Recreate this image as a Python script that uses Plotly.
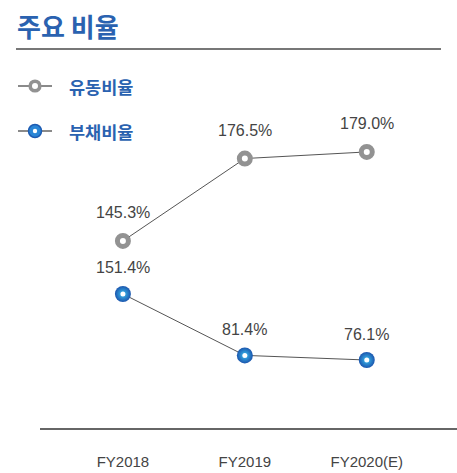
import plotly.graph_objects as go

categories = ["FY2018", "FY2019", "FY2020(E)"]
current_ratio = [145.3, 176.5, 179.0]   # 유동비율
debt_ratio = [151.4, 81.4, 76.1]        # 부채비율
series_names = ["유동비율", "부채비율"]
title_text = "주요 비율"

BLUE = "#2a62b0"
GRAY = "#929292"
LABEL_FONT = dict(family="Liberation Sans, Arial, sans-serif", size=16, color="#444444")

# plot area geometry (pixels) used for paper-coordinate conversions
W, H = 457, 473
ML, MR, MT, MB = 40, 0, 60, 45
PW, PH = W - ML - MR, H - MT - MB


def px(xp):
    return (xp - ML) / PW


def py(yp):
    return (H - MB - yp) / PH


fig = go.Figure()

# 유동비율 (gray)
fig.add_trace(go.Scatter(
    x=categories, y=current_ratio, yaxis="y", mode="lines+markers",
    line=dict(color="#555555", width=1),
    marker=dict(size=11, color="white", line=dict(color=GRAY, width=5)),
    showlegend=False, hoverinfo="skip", cliponaxis=False,
))

# 부채비율 (blue, gradient ring)
fig.add_trace(go.Scatter(
    x=categories, y=debt_ratio, yaxis="y2", mode="lines+markers",
    line=dict(color="#555555", width=1),
    marker=dict(size=16, color="#1b56ae", line=dict(width=0),
                gradient=dict(type="radial", color="#3cc0f0")),
    showlegend=False, hoverinfo="skip", cliponaxis=False,
))
fig.add_trace(go.Scatter(
    x=categories, y=debt_ratio, yaxis="y2", mode="markers",
    marker=dict(size=5, color="white", line=dict(width=0)),
    showlegend=False, hoverinfo="skip", cliponaxis=False,
))

annotations = []
for c, v in zip(categories, current_ratio):
    annotations.append(dict(x=c, y=v, xref="x", yref="y", text=f"{v:.1f}%",
                            showarrow=False, yshift=28, font=LABEL_FONT))
for c, v in zip(categories, debt_ratio):
    annotations.append(dict(x=c, y=v, xref="x", yref="y2", text=f"{v:.1f}%",
                            showarrow=False, yshift=26, font=LABEL_FONT))

# title
annotations.append(dict(x=px(15), y=py(25), xref="paper", yref="paper",
                        xanchor="left", yanchor="middle", showarrow=False,
                        text=f"<b>{title_text}</b>",
                        font=dict(family="Noto Sans CJK KR", size=26, color=BLUE)))

# legend texts
legend_y = [86, 131]
for name, ly in zip(series_names, legend_y):
    annotations.append(dict(x=px(67), y=py(ly), xref="paper", yref="paper",
                            xanchor="left", yanchor="middle", showarrow=False,
                            text=f"<b>{name}</b>",
                            font=dict(family="Noto Sans CJK KR", size=17.5, color=BLUE)))

shapes = [
    # title underline
    dict(type="line", xref="paper", yref="paper", x0=px(16), x1=px(441),
         y0=py(49), y1=py(49), line=dict(color="#777777", width=2)),
]
# legend icons
for i, ly in enumerate(legend_y):
    shapes.append(dict(type="line", xref="paper", yref="paper", x0=px(18), x1=px(52),
                       y0=py(ly), y1=py(ly), line=dict(color="#8a8a8a", width=2)))
    if i == 0:
        shapes.append(dict(type="circle", xref="paper", yref="paper",
                           xsizemode="pixel", ysizemode="pixel",
                           xanchor=px(35), yanchor=py(ly),
                           x0=-4.8, x1=4.8, y0=-4.8, y1=4.8,
                           fillcolor="white", line=dict(color=GRAY, width=3.6)))
    else:
        shapes.append(dict(type="circle", xref="paper", yref="paper",
                           xsizemode="pixel", ysizemode="pixel",
                           xanchor=px(35), yanchor=py(ly),
                           x0=-6.5, x1=6.5, y0=-6.5, y1=6.5,
                           fillcolor="#2a86d6", line=dict(color="#1d5bb2", width=1.5)))
        shapes.append(dict(type="circle", xref="paper", yref="paper",
                           xsizemode="pixel", ysizemode="pixel",
                           xanchor=px(35), yanchor=py(ly),
                           x0=-2.2, x1=2.2, y0=-2.2, y1=2.2,
                           fillcolor="white", line=dict(width=0)))

fig.update_layout(
    width=W, height=H,
    margin=dict(l=ML, r=MR, t=MT, b=MB),
    paper_bgcolor="white", plot_bgcolor="white",
    showlegend=False,
    xaxis=dict(type="category", range=[-0.68, 2.74], showgrid=False, zeroline=False,
               showline=True, linecolor="#666666", linewidth=2, ticks="",
               tickfont=dict(family="Liberation Sans, Arial, sans-serif", size=15, color="#444444"),
               ticklabelstandoff=19, fixedrange=True),
    yaxis=dict(range=[74.5, 213.8], visible=False, fixedrange=True),
    yaxis2=dict(range=[-1.4, 418.2], visible=False, overlaying="y", fixedrange=True),
    annotations=annotations,
    shapes=shapes,
)

fig.write_html("out.html", config={"displayModeBar": False},
               post_script="document.body.style.margin='0px';document.body.style.overflow='hidden';")
